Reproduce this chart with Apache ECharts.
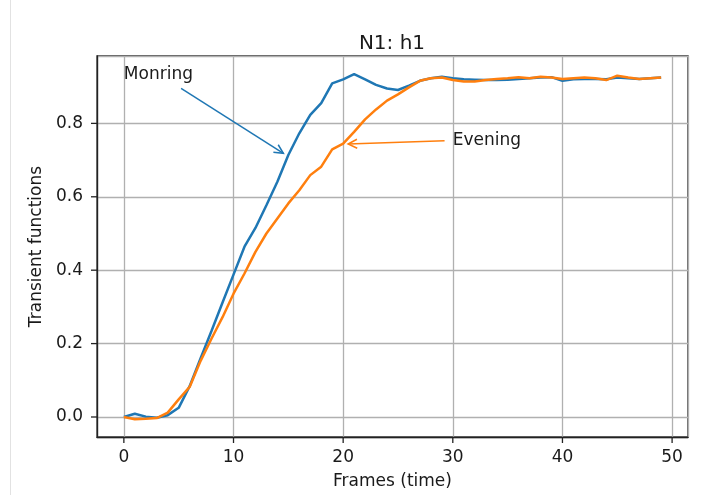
<!DOCTYPE html>
<html>
<head>
<meta charset="utf-8">
<script src="https://cdn.jsdelivr.net/npm/echarts@6/dist/echarts.min.js"></script>
<style>
  html, body { margin: 0; padding: 0; background: #fff; }
  #chart { width: 705px; height: 495px; }
</style>
</head>
<body>
<div id="chart"></div>
<script>
// Frame index (time) shared by both curves
const frames = [0, 1, 2, 3, 4, 5, 6, 7, 8, 9,
  10, 11, 12, 13, 14, 15, 16, 17, 18, 19,
  20, 21, 22, 23, 24, 25, 26, 27, 28, 29,
  30, 31, 32, 33, 34, 35, 36, 37, 38, 39,
  40, 41, 42, 43, 44, 45, 46, 47, 48, 49];

// Transient function h1, morning session
const morning = [0.000, 0.009, 0.001, -0.002, 0.005, 0.025, 0.084, 0.160, 0.235, 0.312,
  0.388, 0.464, 0.515, 0.577, 0.641, 0.714, 0.773, 0.823, 0.855, 0.909,
  0.920, 0.934, 0.920, 0.905, 0.895, 0.891, 0.903, 0.916, 0.923, 0.927,
  0.923, 0.920, 0.919, 0.918, 0.918, 0.919, 0.921, 0.923, 0.925, 0.926,
  0.916, 0.920, 0.921, 0.921, 0.920, 0.925, 0.923, 0.921, 0.923, 0.925];

// Transient function h1, evening session
const evening = [0.000, -0.006, -0.005, -0.003, 0.012, 0.048, 0.082, 0.153, 0.214, 0.272,
  0.336, 0.391, 0.450, 0.500, 0.541, 0.582, 0.618, 0.659, 0.682, 0.729,
  0.745, 0.777, 0.811, 0.838, 0.862, 0.879, 0.898, 0.916, 0.923, 0.925,
  0.918, 0.914, 0.914, 0.918, 0.921, 0.923, 0.926, 0.923, 0.927, 0.925,
  0.921, 0.923, 0.925, 0.923, 0.918, 0.930, 0.925, 0.921, 0.923, 0.925];

// Axis ticks and view limits
const xTicks = [0, 10, 20, 30, 40, 50];
const yTicks = [0.0, 0.2, 0.4, 0.6, 0.8];
const xRange = [-2.45, 51.45];
const yRange = [-0.0545, 0.9836];

// Annotations (data coordinates)
const noteTexts = ['Monring', 'Evening'];
const notePos = [[0, 0.934], [30, 0.7535]];
const arrowFrom = [[5.22, 0.8956], [29.25, 0.7527]];
const arrowTo = [[14.55, 0.7183], [20.45, 0.7437]];

const C0 = '#1f77b4';
const C1 = '#ff7f0e';
const arrowColors = [C0, C1];
const FONT = 'DejaVu Sans';
const INK = '#1a1a1a';
const SPINE = '#222';
const TICK_LEN = 6;

const chart = echarts.init(document.getElementById('chart'), null, { renderer: 'canvas' });

const axisCommon = {
  type: 'value',
  axisLine: { show: true, onZero: false, lineStyle: { color: SPINE, width: 1.3 } },
  axisTick: { show: false },
  splitLine: { show: true, lineStyle: { color: '#b0b0b0', width: 1.3 } },
  nameLocation: 'middle',
  nameTextStyle: { fontFamily: FONT, fontSize: 17, color: INK }
};

// Outward tick marks drawn at the tick values, one custom item per tick
function tickSeries(values, isX) {
  return {
    type: 'custom', z: 7, silent: true, clip: false,
    encode: isX ? { x: 0, y: 1 } : { x: 1, y: 0 },
    data: values.map(v => isX ? [v, yRange[0]] : [v, xRange[0]]),
    renderItem: (params, api) => {
      const p = isX ? api.coord([api.value(0), api.value(1)])
                    : api.coord([api.value(1), api.value(0)]);
      const shape = isX
        ? { x1: p[0], y1: p[1], x2: p[0], y2: p[1] + TICK_LEN }
        : { x1: p[0], y1: p[1], x2: p[0] - TICK_LEN, y2: p[1] };
      return { type: 'line', shape: shape, style: { stroke: SPINE, lineWidth: 1.3 } };
    }
  };
}

chart.setOption({
  animation: false,
  backgroundColor: '#fff',
  title: {
    text: 'N1: h1',
    left: 387,
    top: 29,
    textAlign: 'center',
    textStyle: { fontFamily: FONT, fontSize: 20, fontWeight: 'normal', color: INK }
  },
  grid: {
    left: 97, right: 17, top: 56, bottom: 58,
    show: true, borderColor: SPINE, borderWidth: 1.3, backgroundColor: 'transparent'
  },
  xAxis: Object.assign({}, axisCommon, {
    min: xRange[0], max: xRange[1],
    name: 'Frames (time)', nameGap: 36,
    axisLabel: {
      customValues: xTicks, margin: 12,
      fontFamily: FONT, fontSize: 17, color: INK,
      formatter: v => String(v)
    }
  }),
  yAxis: Object.assign({}, axisCommon, {
    min: yRange[0], max: yRange[1],
    name: 'Transient functions', nameGap: 49,
    axisLabel: {
      customValues: yTicks, margin: 14,
      fontFamily: FONT, fontSize: 17, color: INK,
      formatter: v => v.toFixed(1)
    }
  }),
  graphic: [{
    type: 'line', silent: true,
    shape: { x1: 10.5, y1: 0, x2: 10.5, y2: 495 },
    style: { stroke: '#e2e2e2', lineWidth: 1 }
  }],
  series: [
    {
      name: 'Morning', type: 'line', showSymbol: false, z: 3,
      data: frames.map((f, i) => [f, morning[i]]),
      lineStyle: { color: C0, width: 2.5 }, itemStyle: { color: C0 }
    },
    {
      name: 'Evening', type: 'line', showSymbol: false, z: 4,
      data: frames.map((f, i) => [f, evening[i]]),
      lineStyle: { color: C1, width: 2.5 }, itemStyle: { color: C1 }
    },
    {
      type: 'custom', z: 5, silent: true, clip: false,
      encode: { x: [0, 2], y: [1, 3] },
      data: arrowFrom.map((p, i) => [p[0], p[1], arrowTo[i][0], arrowTo[i][1]]),
      renderItem: (params, api) => {
        const a = api.coord([api.value(0), api.value(1)]);
        const b = api.coord([api.value(2), api.value(3)]);
        const ang = Math.atan2(b[1] - a[1], b[0] - a[0]);
        const hl = 9, hw = 4.5;
        const bx = b[0] - hl * Math.cos(ang), by = b[1] - hl * Math.sin(ang);
        const nx = -Math.sin(ang), ny = Math.cos(ang);
        const color = arrowColors[params.dataIndex];
        return {
          type: 'group',
          children: [
            { type: 'line', shape: { x1: a[0], y1: a[1], x2: b[0], y2: b[1] },
              style: { stroke: color, lineWidth: 1.5 } },
            { type: 'polyline',
              shape: { points: [[bx + nx * hw, by + ny * hw], [b[0], b[1]], [bx - nx * hw, by - ny * hw]] },
              style: { stroke: color, fill: null, lineWidth: 1.5 } }
          ]
        };
      }
    },
    {
      type: 'scatter', z: 6, silent: true, symbolSize: 0,
      itemStyle: { opacity: 1 },
      data: notePos.map(p => [p[0], p[1]]),
      label: {
        show: true, position: 'right', distance: 0, opacity: 1,
        formatter: p => noteTexts[p.dataIndex],
        fontFamily: FONT, fontSize: 17, color: INK, verticalAlign: 'middle'
      }
    },
    tickSeries(xTicks, true),
    tickSeries(yTicks, false)
  ]
});
</script>
</body>
</html>
